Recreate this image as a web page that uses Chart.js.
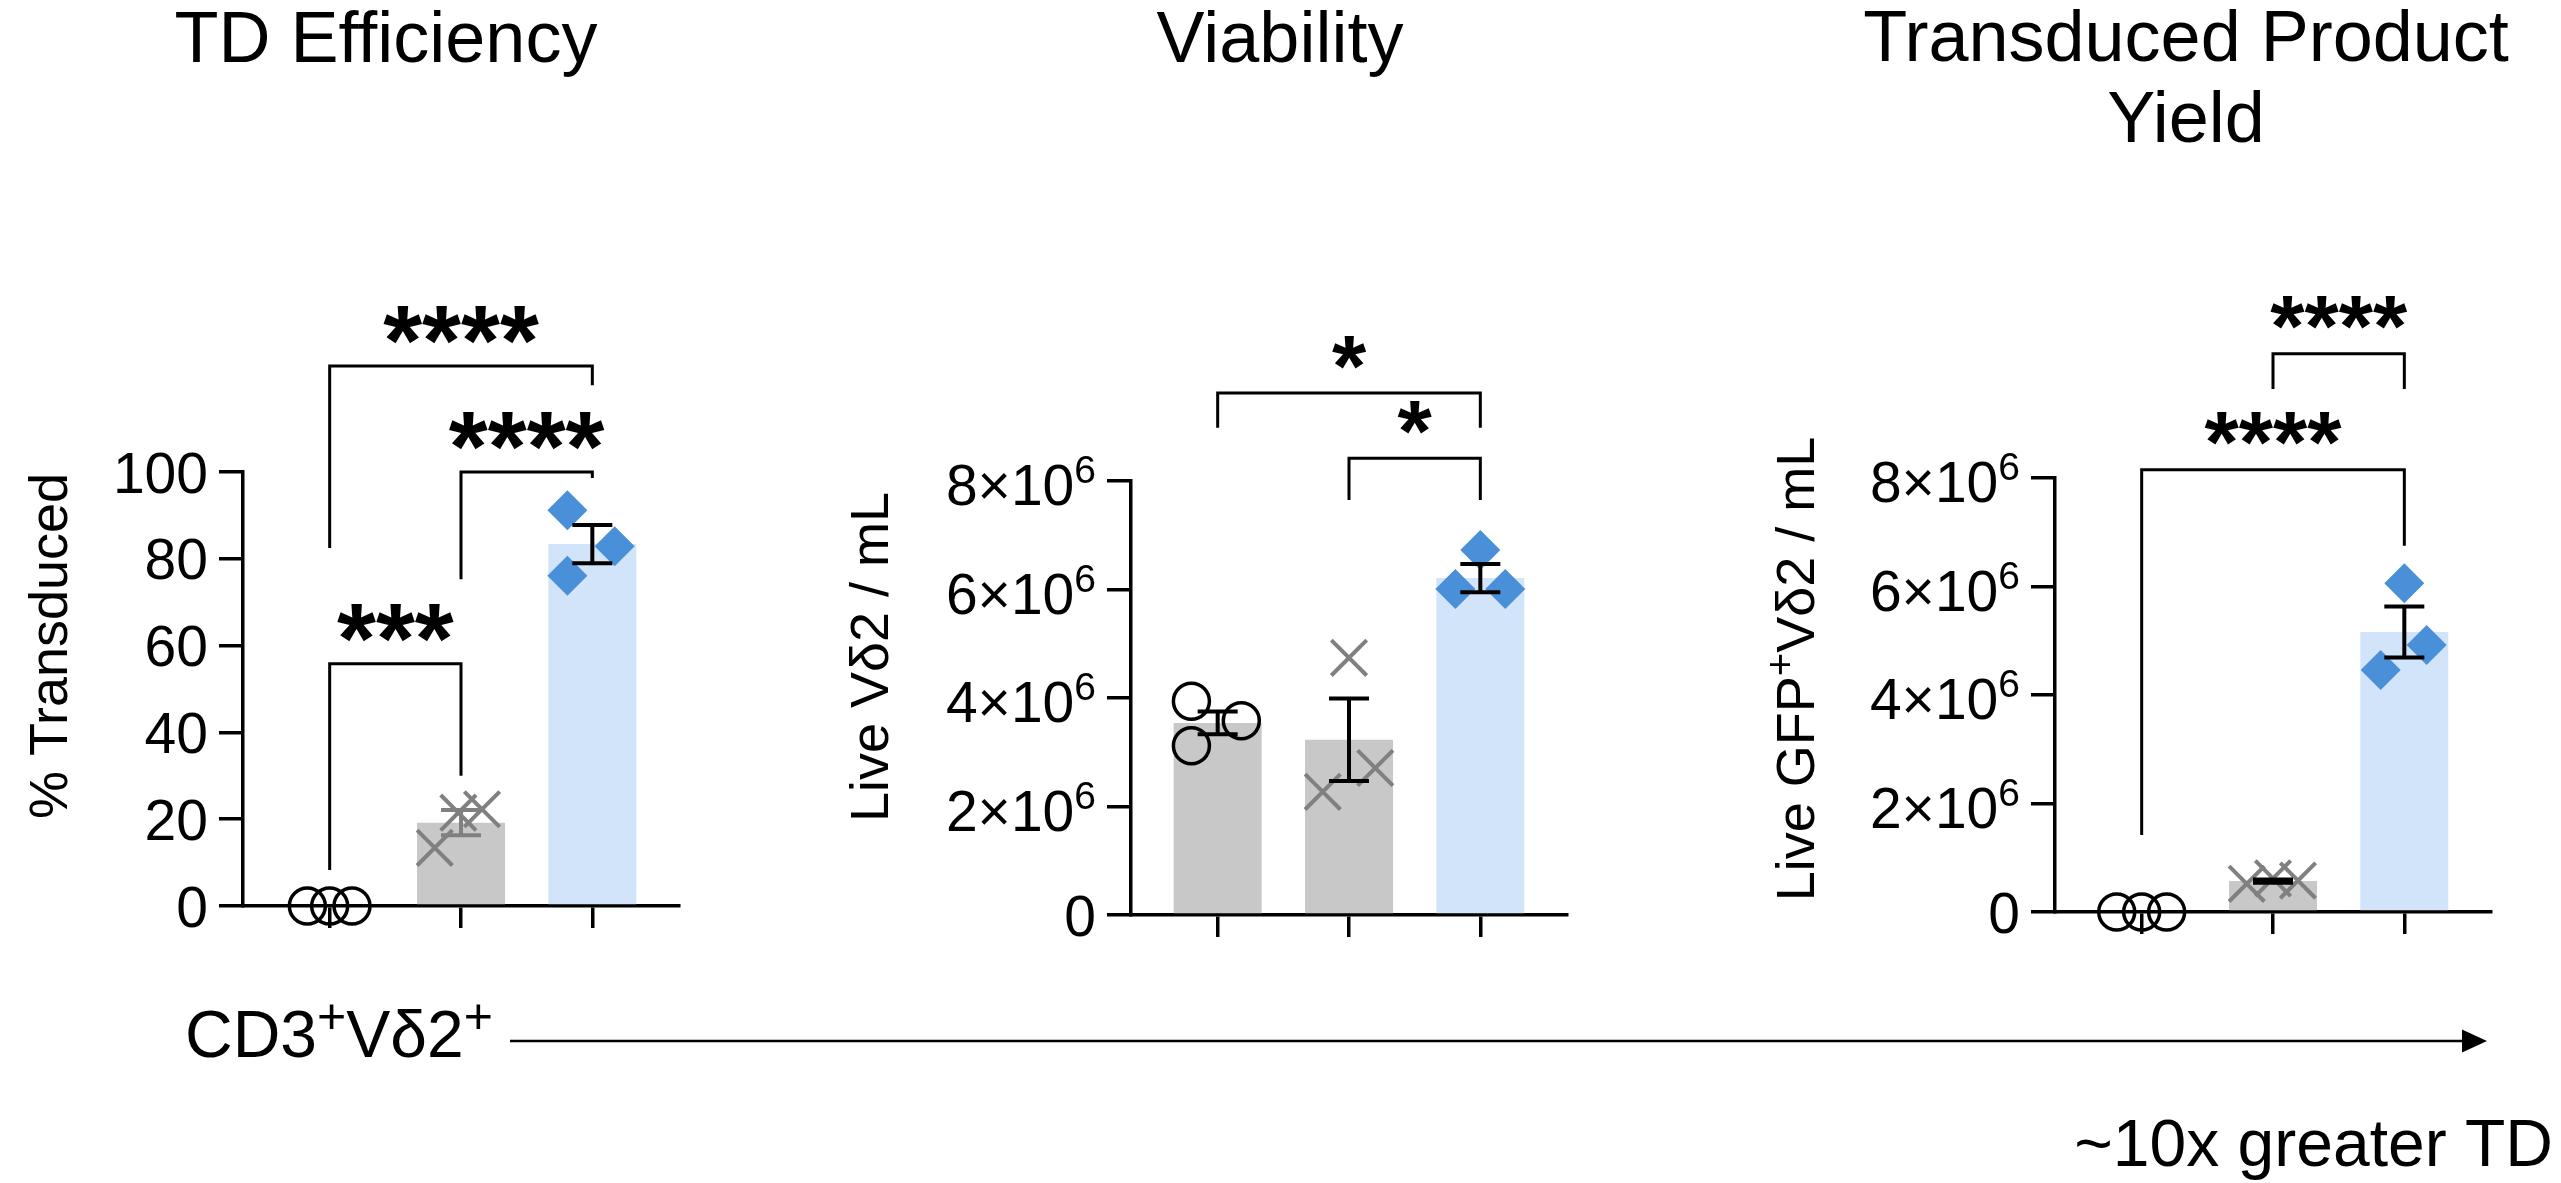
<!DOCTYPE html>
<html>
<head>
<meta charset="utf-8">
<script src="https://cdn.jsdelivr.net/npm/chart.js@4.4.1/dist/chart.umd.min.js"></script>
<style>
  html, body { margin: 0; padding: 0; background: #fff; }
  #wrap { position: relative; width: 2561px; height: 1183px; }
  canvas { position: absolute; left: 0; top: 0; }
</style>
</head>
<body>
<div id="wrap">
  <canvas id="c1" width="2561" height="1183"></canvas>
  <canvas id="c2" width="2561" height="1183"></canvas>
  <canvas id="c3" width="2561" height="1183"></canvas>
</div>
<script>
const FONT = '"Liberation Sans", Arial, Helvetica, sans-serif';

// three conditions per panel (no x labels in the figure)
const categories = ["Condition 1", "Condition 2", "Condition 3"];
const barColors = ["#c8c8c8", "#c8c8c8", "#d1e4fa"];

// TD Efficiency (% transduced)
const tdTicks = [0, 20, 40, 60, 80, 100];
const tdCircles = [0, 0, 0];
const tdCrosses = [13.4, 21.5, 22.3];
const tdDiamonds = [91.2, 82.9, 76.1];
const tdMeans = [0, 19.2, 83.4];
const tdSem = [0, 2.9, 4.4];
const tdCircleSpread = [-0.17, 0, 0.17];
const tdCrossSpread = [-0.2, -0.02, 0.16];
const tdDiamondSpread = [-0.19, 0.17, -0.19];
const tdStats = [
  { from: 0, to: 2, y: 124.4, ends: [82.5, 120.0], label: "****" },
  { from: 1, to: 2, y: 100, ends: [75.3, 98.6], label: "****" },
  { from: 0, to: 1, y: 55.8, ends: [8.3, 30.0], label: "***" }
];

// Viability (live Vδ2 / mL)
const cellTicks = [0, 2e6, 4e6, 6e6, 8e6];
const viaCircles = [3.94e6, 3.58e6, 3.12e6];
const viaCrosses = [4.74e6, 2.27e6, 2.71e6];
const viaDiamonds = [6.73e6, 6.01e6, 6.01e6];
const viaMeans = [3.54e6, 3.23e6, 6.21e6];
const viaSem = [0.21e6, 0.76e6, 0.26e6];
const viaCircleSpread = [-0.2, 0.18, -0.2];
const viaCrossSpread = [0, -0.2, 0.2];
const viaDiamondSpread = [0, -0.19, 0.19];
const viaStats = [
  { from: 0, to: 2, y: 9.62e6, ends: [8.98e6, 8.98e6], label: "*" },
  { from: 1, to: 2, y: 8.42e6, ends: [7.65e6, 7.65e6], label: "*" }
];

// Transduced product yield (live GFP+ Vδ2 / mL)
const yldCircles = [0, 0, 0];
const yldCrosses = [0.52e6, 0.62e6, 0.58e6];
const yldDiamonds = [6.06e6, 4.92e6, 4.46e6];
const yldMeans = [0, 0.57e6, 5.16e6];
const yldSem = [0, 0.03e6, 0.47e6];
const yldCircleSpread = [-0.19, 0, 0.19];
const yldCrossSpread = [-0.2, 0, 0.19];
const yldDiamondSpread = [0, 0.17, -0.18];
const yldStats = [
  { from: 1, to: 2, y: 10.29e6, ends: [9.64e6, 9.64e6], label: "****" },
  { from: 0, to: 2, y: 8.15e6, ends: [1.42e6, 6.75e6], label: "****" }
];

const panels = [
  {
    canvas: "c1", area: { left: 243, top: 472, right: 679, bottom: 906 },
    yMax: 100, yTicks: tdTicks, sci: false,
    means: tdMeans, sem: tdSem, errColors: ["#000", "#808080", "#000"],
    circles: tdCircles, crosses: tdCrosses, diamonds: tdDiamonds,
    spread: [tdCircleSpread, tdCrossSpread, tdDiamondSpread],
    stats: tdStats, starSize: 100,
    title: { lines: ["TD Efficiency"], x: 386, y: 62, size: 72 },
    yTitle: { parts: [["% Transduced"]], x: 67, y: 646 },
    note: true
  },
  {
    canvas: "c2", area: { left: 1131, top: 481, right: 1567, bottom: 915 },
    yMax: 8e6, yTicks: cellTicks, sci: true,
    means: viaMeans, sem: viaSem, errColors: ["#000", "#000", "#000"],
    circles: viaCircles, crosses: viaCrosses, diamonds: viaDiamonds,
    spread: [viaCircleSpread, viaCrossSpread, viaDiamondSpread],
    stats: viaStats, starSize: 88,
    title: { lines: ["Viability"], x: 1280, y: 62, size: 72 },
    yTitle: { parts: [["Live Vδ2 / mL"]], x: 888, y: 657 }
  },
  {
    canvas: "c3", area: { left: 2055, top: 478, right: 2491, bottom: 912 },
    yMax: 8e6, yTicks: cellTicks, sci: true,
    means: yldMeans, sem: yldSem, errColors: ["#000", "#000", "#000"],
    circles: yldCircles, crosses: yldCrosses, diamonds: yldDiamonds,
    spread: [yldCircleSpread, yldCrossSpread, yldDiamondSpread],
    stats: yldStats, starSize: 88,
    title: { lines: ["Transduced Product", "Yield"], x: 2186, y: 61, size: 72 },
    yTitle: { parts: [["Live GFP"], ["+", true], ["Vδ2 / mL"]], x: 1814, y: 669 }
  }
];

// text with superscript pieces, drawn left to right from x
function drawRich(ctx, parts, x, y, size, supSize, raise) {
  let cx = x;
  parts.forEach(([text, sup]) => {
    ctx.font = (sup ? supSize : size) + "px " + FONT;
    ctx.fillText(text, cx, sup ? y - raise : y);
    cx += ctx.measureText(text).width;
  });
}
function richWidth(ctx, parts, size, supSize) {
  let w = 0;
  parts.forEach(([text, sup]) => {
    ctx.font = (sup ? supSize : size) + "px " + FONT;
    w += ctx.measureText(text).width;
  });
  return w;
}

function makeDecor(p) {
  return {
    id: "decor_" + p.canvas,
    afterDraw(chart) {
      const { ctx, chartArea } = chart;
      const x = chart.scales.x, y = chart.scales.y;
      ctx.save();
      ctx.fillStyle = "#000";

      // error bars (SEM)
      p.means.forEach((m, i) => {
        if (!p.sem[i]) return;
        const px = x.getPixelForValue(i);
        const top = y.getPixelForValue(m + p.sem[i]);
        const bot = y.getPixelForValue(m - p.sem[i]);
        ctx.strokeStyle = p.errColors[i];
        ctx.lineWidth = 4;
        ctx.beginPath();
        ctx.moveTo(px, top); ctx.lineTo(px, bot);
        ctx.moveTo(px - 20, top); ctx.lineTo(px + 20, top);
        ctx.moveTo(px - 20, bot); ctx.lineTo(px + 20, bot);
        ctx.stroke();
      });

      // significance brackets
      ctx.strokeStyle = "#000";
      ctx.lineWidth = 3;
      ctx.lineJoin = "miter";
      p.stats.forEach(b => {
        const x1 = x.getPixelForValue(b.from), x2 = x.getPixelForValue(b.to);
        const yl = y.getPixelForValue(b.y);
        ctx.beginPath();
        ctx.moveTo(x1, y.getPixelForValue(b.ends[0]));
        ctx.lineTo(x1, yl);
        ctx.lineTo(x2, yl);
        ctx.lineTo(x2, y.getPixelForValue(b.ends[1]));
        ctx.stroke();
        ctx.font = "bold " + p.starSize + "px " + FONT;
        ctx.textAlign = "center";
        ctx.textBaseline = "alphabetic";
        const mt = ctx.measureText(b.label);
        const cy = yl - 41;
        ctx.fillText(b.label, (x1 + x2) / 2, cy + (mt.actualBoundingBoxAscent - mt.actualBoundingBoxDescent) / 2);
      });

      // y tick labels
      const right = chartArea.left - 24 - 11;
      ctx.textBaseline = "alphabetic";
      y.ticks.forEach(t => {
        const py = y.getPixelForValue(t.value);
        if (p.sci && t.value !== 0) {
          const exp = Math.floor(Math.log10(t.value) + 1e-9);
          const mant = Math.round(t.value / Math.pow(10, exp));
          ctx.font = "39px " + FONT;
          const ew = ctx.measureText(String(exp)).width;
          ctx.textAlign = "left";
          ctx.fillText(String(exp), right - ew, py + 2);
          ctx.font = "57px " + FONT;
          ctx.textAlign = "right";
          ctx.fillText(mant + "×10", right - ew, py + 24);
        } else {
          ctx.font = "57px " + FONT;
          ctx.textAlign = "right";
          ctx.fillText(String(t.value), right, py + 20.5);
        }
      });

      // y axis title (rotated)
      ctx.save();
      ctx.translate(p.yTitle.x, p.yTitle.y);
      ctx.rotate(-Math.PI / 2);
      ctx.textAlign = "left";
      const tw = richWidth(ctx, p.yTitle.parts, 54, 40);
      drawRich(ctx, p.yTitle.parts, -tw / 2, 0, 54, 40, 20);
      ctx.restore();

      // panel title
      ctx.font = p.title.size + "px " + FONT;
      ctx.textAlign = "center";
      p.title.lines.forEach((line, k) => {
        ctx.fillText(line, p.title.x, p.title.y + k * 81);
      });

      // bottom arrow annotation
      if (p.note) {
        ctx.textAlign = "left";
        drawRich(ctx, [["CD3"], ["+", true], ["Vδ2"], ["+", true]], 185, 1057, 66, 50, 24);
        ctx.lineWidth = 2.5;
        ctx.beginPath();
        ctx.moveTo(510, 1041); ctx.lineTo(2464, 1041);
        ctx.stroke();
        ctx.beginPath();
        ctx.moveTo(2462, 1029.5); ctx.lineTo(2487, 1041); ctx.lineTo(2462, 1052.5);
        ctx.closePath();
        ctx.fill();
        ctx.font = "66px " + FONT;
        ctx.textAlign = "right";
        ctx.fillText("~10x greater TD", 2553, 1166);
      }
      ctx.restore();
    }
  };
}

const YW = 150, XH = 40;
const axisLine = { display: true, color: "#000", width: 3.5 };

panels.forEach(p => {
  const a = p.area;
  const pts = (vals, spread, cat) => vals.map((v, i) => ({ x: cat + spread[i], y: v }));
  new Chart(document.getElementById(p.canvas), {
    type: "bar",
    data: {
      datasets: [
        {
          type: "bar", order: 5,
          data: p.means.map((m, i) => ({ x: i, y: m })),
          backgroundColor: barColors, borderWidth: 0,
          barPercentage: 0.67, categoryPercentage: 1
        },
        {
          type: "scatter", order: 1, clip: false,
          data: pts(p.circles, p.spread[0], 0),
          pointStyle: "circle", pointRadius: 18,
          borderColor: "#000", backgroundColor: "rgba(0,0,0,0)", borderWidth: 3.5
        },
        {
          type: "scatter", order: 1, clip: false,
          data: pts(p.crosses, p.spread[1], 1),
          pointStyle: "crossRot", pointRadius: 25,
          borderColor: "#808080", borderWidth: 4
        },
        {
          type: "scatter", order: 1, clip: false,
          data: pts(p.diamonds, p.spread[2], 2),
          pointStyle: "rectRot", pointRadius: 20,
          backgroundColor: "#4a90d9", borderColor: "#4a90d9", borderWidth: 0
        }
      ]
    },
    options: {
      responsive: false,
      animation: false,
      events: [],
      layout: { padding: { left: a.left - YW, top: a.top, right: 2561 - a.right, bottom: 1183 - a.bottom - XH } },
      plugins: { legend: { display: false }, tooltip: { enabled: false } },
      scales: {
        x: {
          type: "linear", min: -0.66, max: 2.66, offset: false,
          afterBuildTicks: s => { s.ticks = categories.map((c, i) => ({ value: i })); },
          afterFit: s => { s.height = XH; },
          ticks: { display: false },
          grid: { offset: false, drawOnChartArea: false, drawTicks: true, tickLength: 22, color: "#000", lineWidth: 3.5 },
          border: axisLine
        },
        y: {
          type: "linear", min: 0, max: p.yMax,
          afterBuildTicks: s => { s.ticks = p.yTicks.map(v => ({ value: v })); },
          afterFit: s => { s.width = YW; },
          ticks: { display: false },
          grid: { drawOnChartArea: false, drawTicks: true, tickLength: 24, color: "#000", lineWidth: 3.5 },
          border: axisLine
        }
      }
    },
    plugins: [makeDecor(p)]
  });
});
</script>
</body>
</html>
